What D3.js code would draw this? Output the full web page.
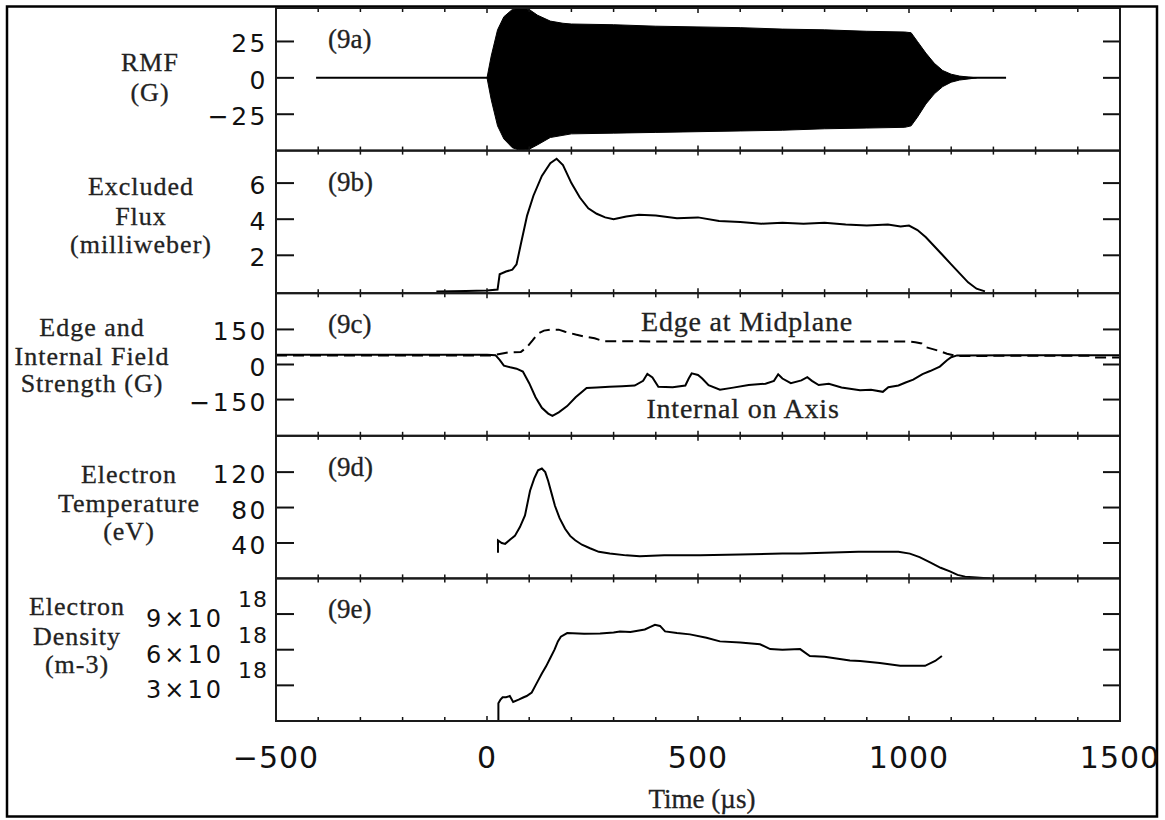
<!DOCTYPE html>
<html>
<head>
<meta charset="utf-8">
<script src="https://cdn.jsdelivr.net/npm/d3@7"></script>
<style>
  body { margin: 0; background: #fff; }
  svg { display: block; }
</style>
</head>
<body>
<svg id="chart"></svg>
<script>
// ---- data ----
const timeTicks = [-500, 0, 500, 1000, 1500];
const timeTickLabels = ["\u2212500", "0", "500", "1000", "1500"];

// (9a) RMF: envelope of the fast oscillation + the quiet zero line
const rmfBaseTime = [-405, 1230];
const rmfBaseValue = [0, 0];
const rmfTime  = [0, 10, 25, 40, 60, 80, 100, 120, 150, 180, 200, 300, 400, 500, 600, 700, 800, 900, 990, 1005, 1020, 1040, 1060, 1080, 1100, 1120, 1140, 1160];
const rmfUpper = [0, 15, 33, 42, 47, 48, 47, 43, 39, 37.5, 37, 36.5, 35.5, 35, 34.5, 33.5, 33, 32, 31.5, 31, 25, 17, 10, 5, 2.5, 1.2, 0.6, 0];
const rmfLower = [0, -15, -33, -42, -48, -50, -49, -46, -41, -39.5, -38.5, -38, -37.5, -37, -36.5, -36, -35, -34.5, -34, -33, -27, -18, -11, -6, -3, -1.5, -0.8, 0];

// (9b) excluded flux, milliweber
const fluxTime  = [-120, -50, 0, 25, 30, 45, 60, 70, 80, 95, 110, 130, 150, 165, 180, 200, 220, 240, 260, 280, 300, 330, 360, 400, 450, 500, 550, 600, 650, 700, 750, 800, 850, 900, 950, 980, 1000, 1020, 1040, 1060, 1080, 1100, 1120, 1140, 1160, 1180];
const fluxValue = [0, 0.02, 0.05, 0.1, 0.95, 1.1, 1.2, 1.5, 2.6, 4.2, 5.3, 6.4, 7.1, 7.35, 7.0, 6.0, 5.2, 4.6, 4.3, 4.1, 4.0, 4.15, 4.25, 4.2, 4.05, 4.1, 3.9, 3.85, 3.75, 3.8, 3.75, 3.8, 3.7, 3.65, 3.7, 3.6, 3.65, 3.4, 3.0, 2.5, 2.0, 1.5, 1.0, 0.5, 0.15, 0];

// (9c) field strength, G
const internalTime  = [-500, 0, 20, 30, 40, 55, 70, 85, 100, 115, 130, 145, 155, 170, 190, 210, 236, 260, 290, 320, 350, 370, 380, 392, 406, 440, 470, 478, 485, 500, 510, 525, 552, 580, 620, 660, 680, 690, 700, 720, 745, 759, 770, 786, 810, 840, 884, 910, 938, 951, 975, 992, 1010, 1032, 1050, 1073, 1090, 1100, 1114, 1300, 1500];
const internalValue = [42, 42, 40, 20, -5, -12, -18, -30, -80, -140, -185, -210, -220, -205, -178, -140, -100, -98, -95, -93, -90, -70, -40, -55, -95, -97, -90, -60, -38, -45, -60, -88, -108, -100, -88, -82, -70, -42, -60, -80, -68, -54, -70, -88, -82, -98, -110, -108, -117, -97, -90, -77, -65, -41, -28, -9, 18, 31, 39, 40, 40];
const edgeTime  = [-500, 10, 30, 50, 80, 95, 108, 120, 135, 150, 170, 185, 210, 230, 255, 276, 350, 500, 700, 900, 1000, 1015, 1030, 1040, 1068, 1090, 1114, 1200, 1430, 1440, 1500];
const edgeValue = [38, 38, 45, 52, 53, 75, 103, 131, 145, 149, 149, 140, 128, 120, 112, 100, 99, 98, 98, 98, 98, 95, 90, 74, 60, 46, 36, 37, 37, 30, 30];

// (9d) electron temperature, eV
const tempTime  = [26, 26, 35, 43, 55, 66, 78, 90, 102, 112, 121, 130, 138, 145, 153, 161, 172, 185, 197, 209, 225, 244, 265, 291, 330, 362, 420, 505, 600, 700, 742, 800, 880, 931, 975, 1002, 1025, 1050, 1075, 1097, 1115, 1133, 1160, 1192];
const tempValue = [29, 43, 40, 39, 44, 48, 58, 71, 99, 113, 122, 124, 120, 110, 96, 82, 68, 56, 48, 43, 38, 34, 30, 28, 26, 25, 26, 26, 27, 28, 28, 29, 30, 30, 30, 28, 24, 18, 12, 8, 4, 2, 1, 0];

// (9e) electron density, m^-3
const densTime  = [27, 27, 32, 37, 45, 54, 62, 75, 87, 94, 106, 115, 121, 130, 140, 150, 160, 168, 175, 190, 230, 268, 300, 315, 340, 374, 386, 398, 410, 422, 450, 481, 520, 552, 600, 647, 671, 700, 742, 765, 800, 836, 860, 884, 931, 979, 1038, 1062, 1078];
const densValue = [0, 1.5e18, 1.8e18, 2.0e18, 2.0e18, 2.1e18, 1.6e18, 1.8e18, 2.0e18, 2.1e18, 2.4e18, 3.0e18, 3.4e18, 4.0e18, 4.6e18, 5.3e18, 6.0e18, 6.7e18, 7.1e18, 7.4e18, 7.35e18, 7.37e18, 7.45e18, 7.54e18, 7.5e18, 7.7e18, 7.9e18, 8.1e18, 8.0e18, 7.54e18, 7.4e18, 7.29e18, 7.0e18, 6.7e18, 6.6e18, 6.46e18, 6.05e18, 6.0e18, 6.05e18, 5.47e18, 5.4e18, 5.22e18, 5.1e18, 5.05e18, 4.89e18, 4.64e18, 4.64e18, 5.05e18, 5.47e18];

// y axes
const rmfDomain = [-50, 48],   rmfTicks = [-25, 0, 25],     rmfTickLabels = ["\u221225", "0", "25"];
const fluxDomain = [-0.1, 7.8], fluxTicks = [2, 4, 6],      fluxTickLabels = ["2", "4", "6"];
const fieldDomain = [-305, 305], fieldTicks = [-150, 0, 150], fieldTickLabels = ["\u2212150", "0", "150"];
const tempDomain = [0, 161],   tempTicks = [40, 80, 120],   tempTickLabels = ["40", "80", "120"];
const densDomain = [0, 12e18], densTicks = [3e18, 6e18, 9e18], densTickMantissa = ["3", "6", "9"];

const panelTags = ["(9a)", "(9b)", "(9c)", "(9d)", "(9e)"];
const rmfLabel = ["RMF", "(G)"];
const fluxLabel = ["Excluded", "Flux", "(milliweber)"];
const fieldLabel = ["Edge and", "Internal Field", "Strength (G)"];
const tempLabel = ["Electron", "Temperature", "(eV)"];
const densLabel = ["Electron", "Density", "(m-3)"];
const edgeName = "Edge at Midplane";
const internalName = "Internal on Axis";
const xTitle = "Time (\u00b5s)";

// ---- layout ----
const W = 1165, H = 820;
const plot = {left: 276, right: 1120, top: 8, bottom: 721};
const panelH = (plot.bottom - plot.top) / 5;
const SERIF = '"Liberation Serif", "Times New Roman", serif';
const SANS = '"DejaVu Sans", sans-serif';

const svg = d3.select("#chart").attr("width", W).attr("height", H);

const x = d3.scaleLinear().domain([-500, 1500]).range([plot.left, plot.right]);

const panels = [
  {domain: rmfDomain, ticks: rmfTicks, labels: rmfTickLabels, title: rmfLabel, cx: 150, base: [71, 101]},
  {domain: fluxDomain, ticks: fluxTicks, labels: fluxTickLabels, title: fluxLabel, cx: 141, base: [195, 225, 253]},
  {domain: fieldDomain, ticks: fieldTicks, labels: fieldTickLabels, title: fieldLabel, cx: 92, base: [336, 365, 392]},
  {domain: tempDomain, ticks: tempTicks, labels: tempTickLabels, title: tempLabel, cx: 129, base: [483, 512, 540]},
  {domain: densDomain, ticks: densTicks, labels: null, title: densLabel, cx: 77, base: [615, 645, 673]}
];

const defs = svg.append("defs");

panels.forEach((p, i) => {
  const top = plot.top + i * panelH;
  p.y = d3.scaleLinear().domain(p.domain).range([top + panelH, top]);
  p.top = top;

  defs.append("clipPath").attr("id", "clip" + i)
    .append("rect")
    .attr("x", plot.left).attr("y", top)
    .attr("width", plot.right - plot.left).attr("height", panelH);
});

// outer border
svg.append("rect")
  .attr("x", 7).attr("y", 6.5)
  .attr("width", 1150).attr("height", 810)
  .attr("fill", "none").attr("stroke", "#000").attr("stroke-width", 2.5);

// ---- marks ----
const zip = (t, v) => t.map((d, i) => [d, v[i]]);

function drawLine(i, t, v, dash) {
  const p = panels[i];
  svg.append("path")
    .datum(zip(t, v))
    .attr("clip-path", `url(#clip${i})`)
    .attr("fill", "none")
    .attr("stroke", "#000")
    .attr("stroke-width", 2)
    .attr("stroke-dasharray", dash || null)
    .attr("d", d3.line().x(d => x(d[0])).y(d => p.y(d[1])));
}

// RMF envelope
svg.append("path")
  .datum(rmfTime.map((t, i) => ({t, hi: rmfUpper[i], lo: rmfLower[i]})))
  .attr("clip-path", "url(#clip0)")
  .attr("fill", "#000")
  .attr("stroke", "#000")
  .attr("stroke-width", 1)
  .attr("d", d3.area().x(d => x(d.t)).y0(d => panels[0].y(d.lo)).y1(d => panels[0].y(d.hi)));
drawLine(0, rmfBaseTime, rmfBaseValue);

drawLine(1, fluxTime, fluxValue);
drawLine(2, internalTime, internalValue);
drawLine(2, edgeTime, edgeValue, "11,6");
drawLine(3, tempTime, tempValue);
drawLine(4, densTime, densValue);

// ---- frames and ticks ----
const minorX = d3.range(-500, 1501, 100);

panels.forEach((p, i) => {
  const g = svg.append("g");

  // x ticks, top and bottom, pointing inward
  g.selectAll(".xb").data(minorX).join("line")
    .attr("x1", d => x(d)).attr("x2", d => x(d))
    .attr("y1", p.top + panelH).attr("y2", d => p.top + panelH - (timeTicks.includes(d) ? 5 : 4))
    .attr("stroke", "#111").attr("stroke-width", 1.5);
  g.selectAll(".xt").data(minorX).join("line")
    .attr("x1", d => x(d)).attr("x2", d => x(d))
    .attr("y1", p.top).attr("y2", d => p.top + (timeTicks.includes(d) ? 5 : 4))
    .attr("stroke", "#111").attr("stroke-width", 1.5);

  // y ticks left and right
  g.selectAll(".yl").data(p.ticks).join("line")
    .attr("x1", plot.left).attr("x2", plot.left + 18)
    .attr("y1", d => p.y(d)).attr("y2", d => p.y(d))
    .attr("stroke", "#111").attr("stroke-width", 2);
  g.selectAll(".yr").data(p.ticks).join("line")
    .attr("x1", plot.right).attr("x2", plot.right - 17)
    .attr("y1", d => p.y(d)).attr("y2", d => p.y(d))
    .attr("stroke", "#111").attr("stroke-width", 2);

  // frame
  g.append("rect")
    .attr("x", plot.left).attr("y", p.top)
    .attr("width", plot.right - plot.left).attr("height", panelH)
    .attr("fill", "none").attr("stroke", "#1a1a1a").attr("stroke-width", 2);

  // y tick labels
  if (p.labels) {
    g.selectAll(".yt").data(p.ticks).join("text")
      .attr("x", 268)
      .attr("y", d => p.y(d) + 11)
      .attr("text-anchor", "end")
      .style("font-family", SANS)
      .style("font-size", "25px")
      .style("letter-spacing", "2.5px")
      .attr("fill", "#111")
      .text((d, k) => p.labels[k]);
  } else {
    const t = g.selectAll(".yt").data(p.ticks).join("text")
      .attr("x", 268)
      .attr("y", d => p.y(d) + 13)
      .attr("text-anchor", "end")
      .style("font-family", SANS)
      .attr("fill", "#111");
    t.append("tspan")
      .style("font-size", "24px")
      .style("letter-spacing", "3px")
      .text((d, k) => densTickMantissa[k] + "\u00d710");
    t.append("tspan")
      .attr("dx", 14).attr("dy", -20)
      .style("font-size", "22px")
      .style("letter-spacing", "1px")
      .text("18");
  }

  // left title, centred lines
  g.selectAll(".ttl").data(p.title).join("text")
    .attr("x", p.cx)
    .attr("y", (d, k) => p.base[k])
    .attr("text-anchor", "middle")
    .style("font-family", SERIF)
    .style("font-size", "26px")
    .style("letter-spacing", "1px")
    .attr("fill", "#222")
    .attr("stroke", "#222").attr("stroke-width", 0.3)
    .text(d => d);

  // panel tag
  g.append("text")
    .attr("x", 328)
    .attr("y", p.top + 40)
    .style("font-family", SERIF)
    .style("font-size", "27px")
    .attr("fill", "#222")
    .attr("stroke", "#222").attr("stroke-width", 0.3)
    .text(panelTags[i]);
});

// curve names in (9c)
svg.append("text")
  .attr("x", 747).attr("y", 331)
  .attr("text-anchor", "middle")
  .style("font-family", SERIF).style("font-size", "28px").style("letter-spacing", "0.8px")
  .attr("fill", "#222").attr("stroke", "#222").attr("stroke-width", 0.3)
  .text(edgeName);
svg.append("text")
  .attr("x", 743).attr("y", 418)
  .attr("text-anchor", "middle")
  .style("font-family", SERIF).style("font-size", "28px").style("letter-spacing", "0.8px")
  .attr("fill", "#222").attr("stroke", "#222").attr("stroke-width", 0.3)
  .text(internalName);

// x tick labels
svg.selectAll(".xl").data(timeTicks).join("text")
  .attr("x", d => x(d))
  .attr("y", 768)
  .attr("text-anchor", "middle")
  .style("font-family", SANS)
  .style("font-size", "30px")
  .style("letter-spacing", "1px")
  .attr("fill", "#111")
  .text((d, k) => timeTickLabels[k]);

svg.append("text")
  .attr("x", 702).attr("y", 808)
  .attr("text-anchor", "middle")
  .style("font-family", SERIF)
  .style("font-size", "27px")
  .attr("fill", "#222")
  .attr("stroke", "#222").attr("stroke-width", 0.3)
  .text(xTitle);
</script>
</body>
</html>
